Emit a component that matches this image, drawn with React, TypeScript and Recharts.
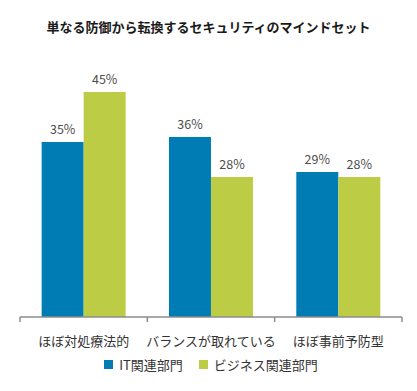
import React from "react";
import { BarChart, Bar, XAxis, YAxis, LabelList, Legend } from "recharts";

const title = "単なる防御から転換するセキュリティのマインドセット";
const categories = ["ほぼ対処療法的", "バランスが取れている", "ほぼ事前予防型"];
const itValues = [35, 36, 29];
const bizValues = [45, 28, 28];
const seriesNames = ["IT関連部門", "ビジネス関連部門"];
const colors = ["#007cb5", "#bccd45"];

const data = categories.map((c, i) => ({ name: c, it: itValues[i], biz: bizValues[i] }));

const FONT = "'Noto Sans CJK JP', 'Noto Sans', sans-serif";

const Tick = (props: any) => {
  const { x, y, payload, index } = props;
  const off = payload.offset || 0;
  const axisY = y - 8;
  return (
    <g>
      <line x1={x - off} x2={x - off} y1={axisY} y2={axisY + 5} stroke="#8c8c8c" strokeWidth={1.5} />
      {index === categories.length - 1 ? (
        <line x1={x + off} x2={x + off} y1={axisY} y2={axisY + 5} stroke="#8c8c8c" strokeWidth={1.5} />
      ) : null}
      <text x={x} y={y + 21} textAnchor="middle" fill="#333" fontSize={13} fontFamily={FONT}>
        {payload.value}
      </text>
    </g>
  );
};

const LegendContent = () => (
  <div style={{ display: "flex", justifyContent: "center", alignItems: "center", fontFamily: FONT, fontSize: 13, color: "#333" }}>
    {seriesNames.map((n, i) => (
      <div key={n} style={{ display: "flex", alignItems: "center", marginRight: i === 0 ? 16 : 0 }}>
        <span style={{ display: "inline-block", width: 9, height: 9, background: colors[i], marginRight: 6 }} />
        <span>{n}</span>
      </div>
    ))}
  </div>
);

export default function App() {
  return (
    <div style={{ position: "absolute", left: 0, top: 0, width: 417, height: 391, background: "#fff" }}>
      <div
        style={{
          position: "absolute",
          left: 0,
          top: 17,
          width: 417,
          textAlign: "center",
          fontFamily: FONT,
          fontWeight: "bold",
          fontSize: 13,
          color: "#1a1a1a",
        }}
      >
        {title}
      </div>
      <BarChart
        width={417}
        height={391}
        data={data}
        margin={{ top: 67, right: 15, left: 20, bottom: 0 }}
        barCategoryGap="17%"
        barGap={0}
      >
        <YAxis hide domain={[0, 50]} />
        <XAxis
          dataKey="name"
          axisLine={{ stroke: "#8c8c8c", strokeWidth: 1.5 }}
          tickLine={false}
          tick={<Tick />}
          height={38}
          interval={0}
        />
        <Legend verticalAlign="bottom" height={36} content={<LegendContent />} />
        <Bar dataKey="it" name={seriesNames[0]} fill={colors[0]} isAnimationActive={false}>
          <LabelList dataKey="it" position="top" offset={8} formatter={(v: any) => `${v}%`} fill="#4d4d4d" fontSize={12.5} fontFamily={FONT} />
        </Bar>
        <Bar dataKey="biz" name={seriesNames[1]} fill={colors[1]} isAnimationActive={false}>
          <LabelList dataKey="biz" position="top" offset={8} formatter={(v: any) => `${v}%`} fill="#4d4d4d" fontSize={12.5} fontFamily={FONT} />
        </Bar>
      </BarChart>
    </div>
  );
}
